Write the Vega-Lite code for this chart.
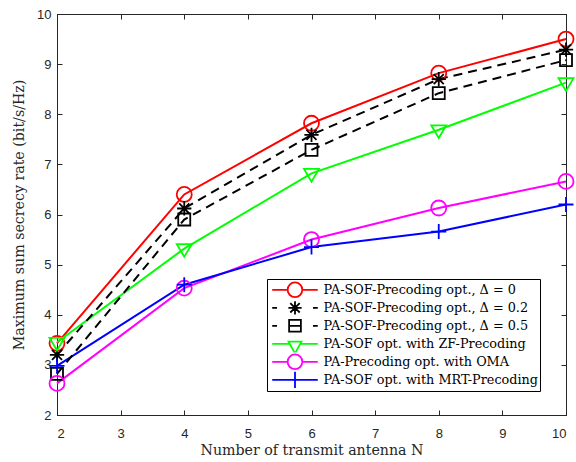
{
  "$schema": "https://vega.github.io/schema/vega-lite/v6.json",
  "width": 509,
  "height": 401,
  "autosize": {"type": "none"},
  "padding": {"left": 57, "top": 14, "right": 10, "bottom": 47},
  "background": "white",
  "config": {
    "view": {"stroke": "#262626", "strokeWidth": 1},
    "axis": {
      "grid": false,
      "domainColor": "#262626",
      "tickColor": "#262626",
      "labelColor": "#262626",
      "titleColor": "#262626",
      "labelFont": "Liberation Sans",
      "labelFontSize": 13,
      "titleFont": "DejaVu Serif",
      "titleFontSize": 14.2,
      "titleFontWeight": "normal",
      "tickSize": -5,
      "tickWidth": 1,
      "domainWidth": 1
    },
    "point": {"filled": false, "size": 225, "strokeWidth": 1.8, "opacity": 1}
  },
  "datasets": {
    "rates": [
      {"N": 2, "rate": 3.43, "series": "PA-SOF-Precoding opt., Δ = 0"},
      {"N": 4, "rate": 6.4, "series": "PA-SOF-Precoding opt., Δ = 0"},
      {"N": 6, "rate": 7.82, "series": "PA-SOF-Precoding opt., Δ = 0"},
      {"N": 8, "rate": 8.82, "series": "PA-SOF-Precoding opt., Δ = 0"},
      {"N": 10, "rate": 9.5, "series": "PA-SOF-Precoding opt., Δ = 0"},
      {"N": 2, "rate": 3.2, "series": "PA-SOF-Precoding opt., Δ = 0.2"},
      {"N": 4, "rate": 6.12, "series": "PA-SOF-Precoding opt., Δ = 0.2"},
      {"N": 6, "rate": 7.59, "series": "PA-SOF-Precoding opt., Δ = 0.2"},
      {"N": 8, "rate": 8.7, "series": "PA-SOF-Precoding opt., Δ = 0.2"},
      {"N": 10, "rate": 9.29, "series": "PA-SOF-Precoding opt., Δ = 0.2"},
      {"N": 2, "rate": 2.82, "series": "PA-SOF-Precoding opt., Δ = 0.5"},
      {"N": 4, "rate": 5.9, "series": "PA-SOF-Precoding opt., Δ = 0.5"},
      {"N": 6, "rate": 7.29, "series": "PA-SOF-Precoding opt., Δ = 0.5"},
      {"N": 8, "rate": 8.42, "series": "PA-SOF-Precoding opt., Δ = 0.5"},
      {"N": 10, "rate": 9.08, "series": "PA-SOF-Precoding opt., Δ = 0.5"},
      {"N": 2, "rate": 3.45, "series": "PA-SOF opt. with ZF-Precoding"},
      {"N": 4, "rate": 5.32, "series": "PA-SOF opt. with ZF-Precoding"},
      {"N": 6, "rate": 6.82, "series": "PA-SOF opt. with ZF-Precoding"},
      {"N": 8, "rate": 7.69, "series": "PA-SOF opt. with ZF-Precoding"},
      {"N": 10, "rate": 8.63, "series": "PA-SOF opt. with ZF-Precoding"},
      {"N": 2, "rate": 2.63, "series": "PA-Precoding opt. with OMA"},
      {"N": 4, "rate": 4.53, "series": "PA-Precoding opt. with OMA"},
      {"N": 6, "rate": 5.5, "series": "PA-Precoding opt. with OMA"},
      {"N": 8, "rate": 6.13, "series": "PA-Precoding opt. with OMA"},
      {"N": 10, "rate": 6.66, "series": "PA-Precoding opt. with OMA"},
      {"N": 2, "rate": 2.98, "series": "PA-SOF opt. with MRT-Precoding"},
      {"N": 4, "rate": 4.6, "series": "PA-SOF opt. with MRT-Precoding"},
      {"N": 6, "rate": 5.35, "series": "PA-SOF opt. with MRT-Precoding"},
      {"N": 8, "rate": 5.66, "series": "PA-SOF opt. with MRT-Precoding"},
      {"N": 10, "rate": 6.2, "series": "PA-SOF opt. with MRT-Precoding"}
    ]
  },
  "data": {"name": "rates"},
  "resolve": {"axis": {"x": "independent", "y": "independent"}},
  "layer": [
    {
      "transform": [{"filter": "indexof(datum.series, 'Δ = 0.') < 0"}],
      "mark": {"type": "line", "strokeWidth": 2},
      "encoding": {
        "x": {
          "field": "N", "type": "quantitative",
          "scale": {"domain": [2, 10], "nice": false},
          "axis": {"title": "Number of transmit antenna N", "values": [2,3,4,5,6,7,8,9,10], "labelPadding": 17, "titlePadding": 3, "orient": "bottom"}
        },
        "y": {
          "field": "rate", "type": "quantitative",
          "scale": {"domain": [2, 10], "nice": false, "zero": false},
          "axis": {"title": "Maximum sum secrecy rate (bit/s/Hz)", "values": [2,3,4,5,6,7,8,9,10], "labelPadding": 11, "titlePadding": 10, "orient": "left"}
        },
        "color": {
          "field": "series", "type": "nominal",
          "scale": {
            "domain": ["PA-SOF-Precoding opt., Δ = 0", "PA-SOF-Precoding opt., Δ = 0.2", "PA-SOF-Precoding opt., Δ = 0.5", "PA-SOF opt. with ZF-Precoding", "PA-Precoding opt. with OMA", "PA-SOF opt. with MRT-Precoding"],
            "range": ["#ff0000", "#000000", "#000000", "#00ff00", "#ff00ff", "#0000ff"]
          },
          "legend": {
            "title": null,
            "orient": "none",
            "legendX": 210,
            "legendY": 265,
            "padding": 2,
            "rowPadding": 0,
            "clipHeight": 17.6,
            "symbolSize": 216,
            "symbolOffset": 17.5,
            "symbolStrokeWidth": 1.8,
            "labelOffset": 20,
            "labelFont": "DejaVu Serif",
            "labelFontSize": 12.8,
            "labelColor": "#000000",
            "labelLimit": 400,
            "strokeColor": "#000000",
            "fillColor": "white",
            "encode": {
              "symbols": {
                "update": {
                  "shape": {"signal": "datum.index == 0 || datum.index == 4 ? 'M-3.1,0L-1,0M1,0L3.1,0M1,0C1,0.55 0.55,1 0,1C-0.55,1 -1,0.55 -1,0C-1,-0.55 -0.55,-1 0,-1C0.55,-1 1,-0.55 1,0Z' : datum.index == 1 ? 'M-3.1,0L-2.45,0M2.45,0L3.1,0M0,-0.9L0,0.9M-0.9,0L0.9,0M-0.64,-0.64L0.64,0.64M-0.64,0.64L0.64,-0.64' : datum.index == 2 ? 'M-3.1,0L-2.45,0M2.45,0L3.1,0M-0.8,-0.8H0.8V0.8H-0.8ZM-0.8,0H0.8' : datum.index == 3 ? 'M-3.1,0L-0.7,0M0.7,0L3.1,0M-0.88,-0.3L0.88,-0.3L0,1.3Z' : 'M-3.1,0L3.1,0M0,-1.1L0,1.1'"},
                  "size": {"value": 216},
                  "fill": {"value": "transparent"},
                  "strokeWidth": {"value": 1.8}
                }
              }
            }
          }
        }
      }
    },
    {
      "transform": [{"filter": "indexof(datum.series, 'Δ = 0.') >= 0"}],
      "mark": {"type": "line", "strokeWidth": 2, "strokeDash": [9, 6]},
      "encoding": {
        "x": {"field": "N", "type": "quantitative", "axis": null},
        "y": {"field": "rate", "type": "quantitative", "axis": null},
        "color": {"field": "series", "type": "nominal", "legend": null}
      }
    },
    {
      "transform": [{"filter": "datum.series == 'PA-SOF-Precoding opt., Δ = 0'"}],
      "mark": {"type": "point", "shape": "circle", "color": "#ff0000"},
      "encoding": {
        "x": {"field": "N", "type": "quantitative", "axis": {"orient": "top", "title": null, "labels": false, "values": [2,3,4,5,6,7,8,9,10]}},
        "y": {"field": "rate", "type": "quantitative", "axis": {"orient": "right", "title": null, "labels": false, "values": [2,3,4,5,6,7,8,9,10]}}
      }
    },
    {
      "transform": [{"filter": "datum.series == 'PA-SOF-Precoding opt., Δ = 0.2'"}],
      "mark": {"type": "point", "shape": "M0,-0.95L0,0.95M-0.95,0L0.95,0M-0.67,-0.67L0.67,0.67M-0.67,0.67L0.67,-0.67", "color": "#000000"},
      "encoding": {
        "x": {"field": "N", "type": "quantitative", "axis": null},
        "y": {"field": "rate", "type": "quantitative", "axis": null}
      }
    },
    {
      "transform": [{"filter": "datum.series == 'PA-SOF-Precoding opt., Δ = 0.5'"}],
      "mark": {"type": "point", "shape": "M-0.8,-0.8H0.8V0.8H-0.8Z", "color": "#000000"},
      "encoding": {
        "x": {"field": "N", "type": "quantitative", "axis": null},
        "y": {"field": "rate", "type": "quantitative", "axis": null}
      }
    },
    {
      "transform": [{"filter": "datum.series == 'PA-SOF opt. with ZF-Precoding'"}],
      "mark": {"type": "point", "shape": "M-1,-0.6L1,-0.6L0,1.1Z", "color": "#00ff00"},
      "encoding": {
        "x": {"field": "N", "type": "quantitative", "axis": null},
        "y": {"field": "rate", "type": "quantitative", "axis": null}
      }
    },
    {
      "transform": [{"filter": "datum.series == 'PA-Precoding opt. with OMA'"}],
      "mark": {"type": "point", "shape": "circle", "color": "#ff00ff"},
      "encoding": {
        "x": {"field": "N", "type": "quantitative", "axis": null},
        "y": {"field": "rate", "type": "quantitative", "axis": null}
      }
    },
    {
      "transform": [{"filter": "datum.series == 'PA-SOF opt. with MRT-Precoding'"}],
      "mark": {"type": "point", "shape": "M-1,0L1,0M0,-1L0,1", "color": "#0000ff"},
      "encoding": {
        "x": {"field": "N", "type": "quantitative", "axis": null},
        "y": {"field": "rate", "type": "quantitative", "axis": null}
      }
    }
  ]
}
